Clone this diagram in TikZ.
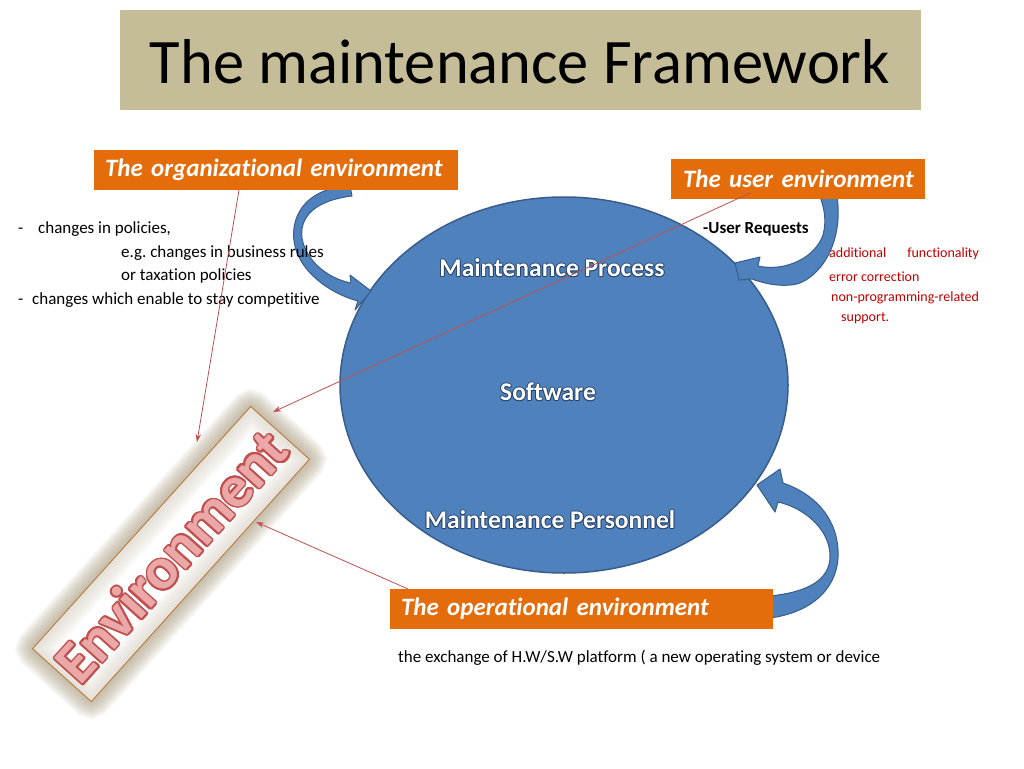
\documentclass[tikz,border=0pt]{standalone}
\usepackage{fontspec}
\setmainfont{Carlito}[Ligatures={NoCommon}]
\frenchspacing
\usetikzlibrary{shapes.geometric,arrows.meta,calc}
\definecolor{titlebg}{HTML}{C4BD97}
\definecolor{orng}{HTML}{E46C0A}
\definecolor{eblue}{HTML}{4F81BD}
\definecolor{eedge}{HTML}{385D8A}
\definecolor{redline}{HTML}{C0504D}
\definecolor{redtxt}{HTML}{C00000}
\definecolor{glow}{HTML}{A39276}
\definecolor{envborder}{HTML}{B8732E}
\definecolor{envfill}{HTML}{EBA8A8}
\definecolor{envline}{HTML}{C0504D}
\definecolor{txtshadow}{HTML}{1F3A5F}
\tikzset{
  obox/.style={fill=orng, text=white, font=\fontsize{25}{29}\selectfont\bfseries\itshape,
    minimum height=40pt, align=left, inner ysep=0pt},
  lst/.style={font=\fontsize{17}{20}\selectfont, anchor=base west, inner sep=0pt},
  redlst/.style={font=\fontsize{14}{17}\selectfont, text=redtxt, anchor=base west, inner sep=0pt},
  barrow/.style={fill=eblue, draw=eedge, line width=1pt, line join=round},
  redarr/.style={draw=redline, line width=0.8pt, -{Stealth[length=8pt,width=5.5pt]}},
  envbox/.style={rotate=48, minimum width=326pt, minimum height=79pt, inner sep=0pt},
  elltxt/.style={font=\fontsize{25.5}{30}\selectfont\bfseries, inner sep=0pt},
  envtxt/.style={rotate=48, font=\fontsize{59}{66}\selectfont\bfseries, inner sep=0pt}
}
\begin{document}
\begin{tikzpicture}[x=1pt,y=-1pt]
\useasboundingbox (0,0) rectangle (1024,768);
\fill[white] (0,0) rectangle (1024,768);

% title
\node[fill=titlebg, minimum width=801pt, minimum height=100pt, inner sep=0pt] (titlebox) at (520.5,60) {};
\node[inner sep=0pt, anchor=base] (title) at (520,83) {\resizebox{740pt}{44pt}{The maintenance Framework}};

% ellipse
\node[ellipse, fill=eblue, draw=eedge, line width=1.5pt, minimum width=448pt, minimum height=376pt, inner sep=0pt] (ell) at (564,385) {};

% ellipse texts with dark outline
\foreach \a in {0,45,...,315}{
  \node[elltxt, text=txtshadow, opacity=0.6] at ($(552,268)+(\a:1)$) {Maintenance Process};
  \node[elltxt, text=txtshadow, opacity=0.6] at ($(548,392)+(\a:1)$) {Software};
  \node[elltxt, text=txtshadow, opacity=0.6] at ($(550,520)+(\a:1)$) {Maintenance Personnel};
}
\node[elltxt, text=white] (mproc) at (552,268) {Maintenance Process};
\node[elltxt, text=white] (soft) at (548,392) {Software};
\node[elltxt, text=white] (mpers) at (550,520) {Maintenance Personnel};

% blue curved arrows
\path[barrow] (350,186) .. controls (300,188) and (285,225) .. (298,255)
  .. controls (308,278) and (335,295) .. (358,301) -- (355,310) -- (371,291) -- (350,275)
  -- (351,283) .. controls (325,278) and (305,258) .. (302,238)
  .. controls (299,215) and (318,200) .. (352,196) -- cycle;
\path[barrow] (836,192) .. controls (844,228) and (830,270) .. (800,283)
  .. controls (785,288) and (765,284) .. (752,279) -- (739,280) -- (735,263) -- (760,257)
  -- (758,266) .. controls (785,272) and (815,258) .. (823,235)
  .. controls (827,220) and (824,205) .. (818,192) -- cycle;
\path[barrow] (770,618) .. controls (815,612) and (840,585) .. (838,550)
  .. controls (836,515) and (812,493) .. (783,483) -- (780,469) -- (757,485) -- (775,512)
  -- (778,502) .. controls (805,508) and (830,530) .. (830,556)
  .. controls (830,580) and (808,592) .. (770,596) -- cycle;

% orange boxes
\node[obox, minimum width=364pt, text width=342pt, inner xsep=11pt] (org) at (276,170) {\mbox{The organizational environment}};
\node[obox, minimum width=254pt, text width=230pt, inner xsep=12pt] (user) at (798,179) {\mbox{The user environment}};
\node[obox, minimum width=383pt, text width=361pt, inner xsep=11pt] (oper) at (581.5,609) {\mbox{The operational environment}};

% left list
\node[lst] (l1) at (18,233) {\makebox[20pt][l]{-}changes in policies,};
\node[lst] (l2) at (121,257) {e.g. changes in business rules};
\node[lst] (l3) at (121,280) {or taxation policies};
\node[lst] (l4) at (18,304) {\makebox[14pt][l]{-}changes which enable to stay competitive};

% user list
\node[lst, font=\fontsize{17}{20}\selectfont\bfseries] (ureq) at (703,233) {-User Requests};
\node[redlst] (r1) at (829,257) {additional\hspace{21pt}functionality};
\node[redlst] (r2) at (829,281) {error correction};
\node[redlst] (r3) at (831,301) {non-programming-related};
\node[redlst] (r4) at (841,321) {support.};

% operational text
\node[lst] (optxt) at (398,662) {the exchange of H.W/S.W platform ( a new operating system or device};

% Environment box with glow
\foreach \w in {36,32,28,24,20,16,12,8,4}{
  \node[envbox, draw=glow, line width=\w pt, draw opacity=0.09, rounded corners=4pt] at (171,554) {};
}
\node[envbox, fill=white, fill opacity=0.55] at (171,554) {};
\node[envbox, draw=envborder, line width=0.8pt] (env) at (171,554) {};
\foreach \a in {0,22.5,...,337.5}{
  \node[envtxt, text=envline] at ($(171,556)+(\a:1.7)$) {Environment};
}
\node[envtxt, text=envfill] (envword) at (171,556) {Environment};

% red connectors
\coordinate (o1) at (239,190);
\coordinate (e1) at (197,442);
\coordinate (u1) at (750,193);
\coordinate (e2) at (273,412);
\coordinate (p1) at (408,589);
\coordinate (e3) at (256,522);
\draw[redarr] (o1) -- (e1);
\draw[redarr] (u1) -- (e2);
\draw[redarr] (p1) -- (e3);
\end{tikzpicture}
\end{document}
